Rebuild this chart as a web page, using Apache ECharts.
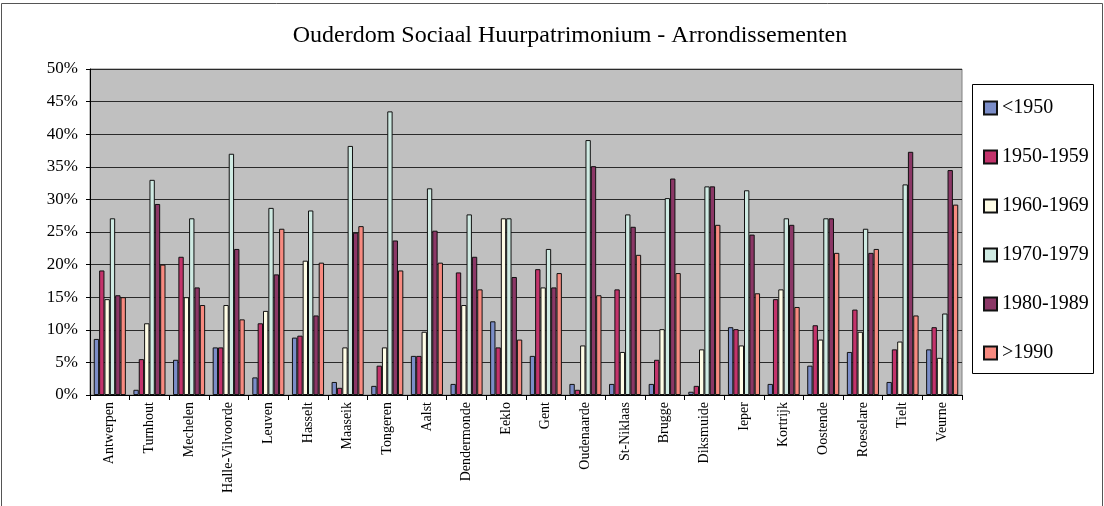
<!DOCTYPE html>
<html>
<head>
<meta charset="utf-8">
<script src="https://cdn.jsdelivr.net/npm/echarts@6/dist/echarts.min.js"></script>
<style>
html,body{margin:0;padding:0;background:#fff;}
#chart{width:1104px;height:506px;}
</style>
</head>
<body>
<div id="chart"></div>
<script>
const categories = ["Antwerpen","Turnhout","Mechelen","Halle-Vilvoorde","Leuven","Hasselt","Maaseik","Tongeren","Aalst","Dendermonde","Eeklo","Gent","Oudenaarde","St-Niklaas","Brugge","Diksmuide","Ieper","Kortrijk","Oostende","Roeselare","Tielt","Veurne"];
const seriesNames = ["<1950","1950-1959","1960-1969","1970-1979","1980-1989",">1990"];
const v1950 = [8.6,0.8,5.4,7.3,2.7,8.8,2.0,1.4,6.0,1.7,11.3,6.0,1.7,1.7,1.7,0.5,10.4,1.7,4.5,6.6,2.0,7.0];
const v1950_1959 = [19.1,5.5,21.2,7.3,11.0,9.1,1.1,4.5,6.0,18.8,7.3,19.3,0.8,16.2,5.4,1.4,10.1,14.7,10.7,13.1,7.0,10.4];
const v1960_1969 = [14.7,11.0,15.0,13.8,12.9,20.6,7.3,7.3,9.7,13.8,27.1,16.5,7.6,6.6,10.1,7.0,7.6,16.2,8.5,9.7,8.2,5.7];
const v1970_1979 = [27.1,33.0,27.1,37.0,28.7,28.3,38.2,43.5,31.7,27.7,27.1,22.4,39.1,27.7,30.2,32.0,31.4,27.1,27.1,25.5,32.3,12.5];
const v1980_1989 = [15.3,29.3,16.5,22.4,18.5,12.2,24.9,23.7,25.2,21.2,18.1,16.5,35.1,25.8,33.2,32.0,24.6,26.1,27.1,21.8,37.3,34.5];
const v1990 = [15.0,20.0,13.8,11.6,25.5,20.3,25.9,19.1,20.3,16.2,8.5,18.7,15.3,21.5,18.7,26.1,15.6,13.5,21.8,22.4,12.2,29.2];
const yTicks = [0,5,10,15,20,25,30,35,40,45,50];
const colors = ["#7b8dc8","#c3336b","#fffde6","#cfebe3","#8b3766","#f78a80"];

const allValues = [v1950,v1950_1959,v1960_1969,v1970_1979,v1980_1989,v1990];
const serif = "Liberation Serif";

const chart = echarts.init(document.getElementById('chart'), null, {renderer:'canvas'});
chart.setOption({
  animation:false,
  backgroundColor:'#ffffff',
  title:{
    text:'Ouderdom Sociaal Huurpatrimonium - Arrondissementen',
    left:565, top:19, textAlign:'center',
    textStyle:{fontFamily:serif,fontSize:24,fontWeight:'normal',color:'#000'}
  },
  graphic:[
    {type:'rect',shape:{x:1.5,y:3.5,width:1101,height:520},style:{fill:'none',stroke:'#555',lineWidth:1},silent:true},
    {type:'rect',shape:{x:972.5,y:84.5,width:121,height:289},style:{fill:'#fff',stroke:'#000',lineWidth:1},silent:true,z:0}
  ],
  legend:{
    orient:'vertical',
    left:983, top:98,
    padding:0,
    itemWidth:13, itemHeight:13,
    itemGap:29,
    icon:'rect',
    textStyle:{fontFamily:serif,fontSize:20,lineHeight:20,color:'#000'},
    data:seriesNames,
    z:5
  },
  grid:{
    left:90, top:69, right:142, bottom:111,
    show:true, backgroundColor:'#c0c0c0', borderColor:'#808080', borderWidth:1
  },
  xAxis:{
    type:'category',
    data:categories,
    boundaryGap:true,
    axisLine:{lineStyle:{color:'#000',width:1}},
    axisTick:{show:true,alignWithLabel:false,length:5,lineStyle:{color:'#000'}},
    axisLabel:{rotate:90,margin:7,fontFamily:serif,fontSize:14,color:'#000',interval:0}
  },
  yAxis:{
    type:'value',
    min:yTicks[0], max:yTicks[yTicks.length-1], interval:5,
    axisLine:{show:true,lineStyle:{color:'#000',width:1}},
    axisTick:{show:true,length:4,lineStyle:{color:'#000'}},
    axisLabel:{formatter:'{value}%',fontFamily:serif,fontSize:17,color:'#000',margin:12},
    splitLine:{show:true,lineStyle:{color:'#2a2a2a',width:1}}
  },
  series: seriesNames.map((n,i)=>({
    name:n,
    type:'bar',
    data:allValues[i],
    barGap:'0%',
    barCategoryGap:'19%',
    itemStyle:{color:colors[i],borderColor:'#111',borderWidth:1}
  }))
});
</script>
</body>
</html>
